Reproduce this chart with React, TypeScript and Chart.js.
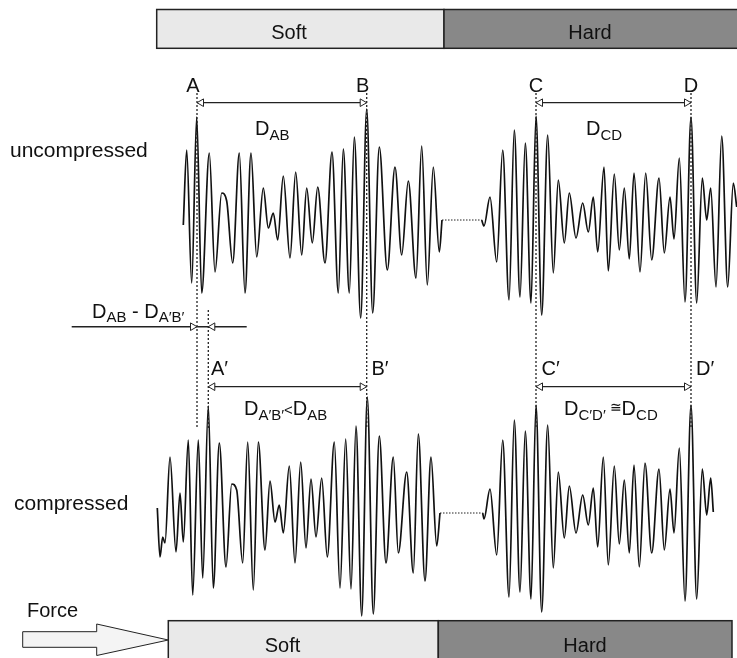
import React, { useEffect, useRef } from "react";
import { Chart, registerables } from "chart.js";

Chart.register(...registerables);

// ---- Waveform data (time units, amplitude; positive = up) ----
const upperLeftT = [183.3,186.7,191.7,196.7,201.7,209.3,215,221.7,226.7,232.7,239.3,245,251,256.7,263.3,268.3,273.3,277.7,283.3,290,295.7,301.7,306.7,312.3,317.7,325,332,338.3,343.3,349.3,354.3,360.7,366.7,372.7,379.3,387.3,395,401.7,408.3,416,421.7,427.3,433.3,439.3,442];
const upperLeftAmp = [-5,70,-63,103,-73,67,-52,27,19,-43,67,-73,67,-37,32,-8,7,-20,44,-38,48,-35,32,-23,33,-43,68,-73,71,-73,83,-98,111,-93,73,-50,53,-35,39,-58,74,-65,53,-32,0];

const upperRightT = [481.7,484,490,496.7,502.7,509,514.3,520,525.3,531,536,541.7,547.7,553.3,558.3,564.3,569.3,576,582.7,588.3,593.3,597.7,604,608.3,614.3,619.3,624.3,629.3,634,640,645.7,651.7,659,664.3,670,674,679.3,685,691,696.7,702.3,706.7,710.7,716,721.7,727.7,733.3,736.7];
const upperRightAmp = [0,-6,23,-42,70,-80,90,-77,77,-83,104,-95,85,-53,40,-23,27,-18,17,-12,23,-32,53,-51,46,-30,32,-39,47,-52,47,-40,42,-33,23,-19,62,-82,103,-83,42,0,32,-67,84,-67,37,13];

const lowerLeftT = [157.3,160,162.7,165,170,176,180,183.3,188.3,192.7,198.3,202.7,208.3,213.3,219.3,226,231.7,236.7,242.7,247.7,253.3,258.3,265,270,275,279.3,283.3,289.3,295,300.7,306,311,316,321.7,327.3,334.3,340,345.7,351,356,361.7,367.3,373.3,379.3,386,393.3,398.3,406.7,413.3,418.3,425,431,436.7,440];
const lowerLeftAmp = [5,-44,-24,-30,56,-39,20,-29,73,-82,73,-65,107,-75,70,-54,29,23,-50,71,-77,71,-37,32,-9,8,-20,47,-50,51,-35,34,-24,35,-44,71,-75,74,-76,87,-103,116,-101,77,-50,56,-40,41,-60,79,-68,56,-33,0];

const lowerRightT = [482.7,484,490,496.7,502.7,509,514.3,520,525.3,531,536,541.7,547.7,553.3,558.3,564.3,569.3,576,582.7,588.3,593.3,597.7,603.3,608.3,614.3,619.3,624.3,629.3,634,639.3,645,651.7,659,664.3,670,674,679.3,685,691,696.7,702.3,706.7,710.7,713.3];
const lowerRightAmp = [0,-6,24,-42,73,-84,93,-79,82,-86,108,-99,88,-55,41,-25,27,-20,18,-12,25,-34,56,-52,47,-31,33,-40,48,-54,50,-40,44,-37,24,-20,65,-88,108,-86,44,-2,35,1];

const upperGapT = [442, 481.7];
const lowerGapT = [440, 482.7];

// ---- Text labels ----
const barLabels = ["Soft", "Hard"];
const rowLabels = ["uncompressed", "compressed"];
const peakLabels = ["A", "B", "C", "D"];
const peakLabelsPrime = ["A′", "B′", "C′", "D′"];
const forceLabel = "Force";

const FONT = '"Liberation Sans", Arial, Helvetica, sans-serif';
const INK = "#111";

const zip = (t: number[], a: number[]) => t.map((x, i) => ({ x, y: a[i] }));

type Part = { t: string; s: number; dy?: number };

function rich(ctx: CanvasRenderingContext2D, x: number, y: number, parts: Part[]) {
  let cx = x;
  ctx.textAlign = "left";
  ctx.textBaseline = "alphabetic";
  for (const p of parts) {
    ctx.font = `${p.s}px ${FONT}`;
    ctx.fillText(p.t, cx, y + (p.dy || 0));
    cx += ctx.measureText(p.t).width;
  }
}

const overlay = {
  id: "overlay",
  afterDatasetsDraw(chart: any) {
    const ctx: CanvasRenderingContext2D = chart.ctx;
    const xs = chart.scales.x;
    const ys = chart.scales.yF;
    const X = (v: number) => xs.getPixelForValue(v);
    const Y = (v: number) => ys.getPixelForValue(v);
    ctx.save();

    // vertical dotted guide lines
    ctx.strokeStyle = "#222";
    ctx.lineWidth = 1.3;
    ctx.setLineDash([2, 2]);
    const vlines: [number, number, number][] = [
      [197, 93, 429],
      [208.3, 310, 429],
      [366.7, 93, 429],
      [536, 93, 429],
      [691, 93, 429],
    ];
    for (const [x, y0, y1] of vlines) {
      ctx.beginPath();
      ctx.moveTo(X(x), Y(y0));
      ctx.lineTo(X(x), Y(y1));
      ctx.stroke();
    }
    ctx.setLineDash([]);

    // distance arrows
    const tri = (tipX: number, y: number, dir: number) => {
      ctx.beginPath();
      ctx.moveTo(X(tipX), Y(y));
      ctx.lineTo(X(tipX + dir * 6.5), Y(y - 3.8));
      ctx.lineTo(X(tipX + dir * 6.5), Y(y + 3.8));
      ctx.closePath();
      ctx.fillStyle = "#fff";
      ctx.fill();
      ctx.lineWidth = 1;
      ctx.strokeStyle = "#222";
      ctx.stroke();
    };
    const hline = (x0: number, x1: number, y: number, w = 1.3) => {
      ctx.beginPath();
      ctx.moveTo(X(x0), Y(y));
      ctx.lineTo(X(x1), Y(y));
      ctx.lineWidth = w;
      ctx.strokeStyle = "#222";
      ctx.stroke();
    };
    const span = (x0: number, x1: number, y: number) => {
      hline(x0, x1, y);
      tri(x0, y, 1);
      tri(x1, y, -1);
    };
    span(197, 366.7, 102.7);
    span(536, 691, 102.7);
    span(208.3, 366.7, 386.7);
    span(536, 691, 386.7);

    // difference marker
    hline(71.7, 246.7, 326.7, 1.6);
    tri(197, 326.7, -1);
    tri(208.3, 326.7, 1);

    // labels
    ctx.fillStyle = INK;
    ctx.textBaseline = "alphabetic";
    ctx.textAlign = "center";
    ctx.font = `20px ${FONT}`;
    const pk = [193, 362.7, 536, 691];
    peakLabels.forEach((l, i) => ctx.fillText(l, X(pk[i]), Y(92)));
    ctx.textAlign = "left";
    const pkp = [211, 371.5, 541.5, 696];
    peakLabelsPrime.forEach((l, i) => ctx.fillText(l, X(pkp[i]), Y(375)));

    ctx.font = `21px ${FONT}`;
    ctx.fillText(rowLabels[0], X(10), Y(157));
    ctx.fillText(rowLabels[1], X(14), Y(510));

    rich(ctx, X(255), Y(135), [{ t: "D", s: 20 }, { t: "AB", s: 15, dy: 5 }]);
    rich(ctx, X(586), Y(135), [{ t: "D", s: 20 }, { t: "CD", s: 15, dy: 5 }]);
    rich(ctx, X(92), Y(318), [
      { t: "D", s: 20 },
      { t: "AB", s: 15, dy: 4 },
      { t: " - ", s: 20 },
      { t: "D", s: 20 },
      { t: "A′B′", s: 15, dy: 4 },
    ]);
    rich(ctx, X(244), Y(415), [
      { t: "D", s: 20 },
      { t: "A′B′", s: 15, dy: 5 },
      { t: "<", s: 15 },
      { t: "D", s: 20 },
      { t: "AB", s: 15, dy: 5 },
    ]);
    rich(ctx, X(564), Y(415), [
      { t: "D", s: 20 },
      { t: "C′D′", s: 15, dy: 5 },
      { t: " ≅", s: 14, dy: -3 },
      { t: "D", s: 20 },
      { t: "CD", s: 15, dy: 5 },
    ]);
    ctx.restore();
  },
  afterDraw(chart: any) {
    const ctx: CanvasRenderingContext2D = chart.ctx;
    const xs = chart.scales.x;
    const ys = chart.scales.yF;
    const X = (v: number) => xs.getPixelForValue(v);
    const Y = (v: number) => ys.getPixelForValue(v);
    ctx.save();
    const box = (x0: number, x1: number, y0: number, y1: number, fill: string) => {
      ctx.fillStyle = fill;
      ctx.fillRect(X(x0), Y(y0), X(x1) - X(x0), Y(y1) - Y(y0));
      ctx.lineWidth = 1.5;
      ctx.strokeStyle = "#222";
      ctx.strokeRect(X(x0), Y(y0), X(x1) - X(x0), Y(y1) - Y(y0));
    };
    // top bar
    box(156.7, 444, 9.5, 48.3, "#e9e9e9");
    box(444, 745, 9.5, 48.3, "#888888");
    // bottom bar
    box(168.3, 438.3, 620.7, 665, "#e9e9e9");
    box(438.3, 732, 620.7, 665, "#888888");

    ctx.fillStyle = INK;
    ctx.font = `20px ${FONT}`;
    ctx.textAlign = "center";
    ctx.textBaseline = "alphabetic";
    ctx.fillText(barLabels[0], X(289), Y(39));
    ctx.fillText(barLabels[1], X(590), Y(39));
    ctx.fillText(barLabels[0], X(282.5), Y(651.5));
    ctx.fillText(barLabels[1], X(585), Y(651.5));

    // force arrow
    ctx.beginPath();
    ctx.moveTo(X(22.7), Y(631.7));
    ctx.lineTo(X(96.7), Y(631.7));
    ctx.lineTo(X(96.7), Y(624));
    ctx.lineTo(X(168.3), Y(640));
    ctx.lineTo(X(96.7), Y(655.5));
    ctx.lineTo(X(96.7), Y(647.3));
    ctx.lineTo(X(22.7), Y(647.3));
    ctx.closePath();
    ctx.fillStyle = "#f4f4f4";
    ctx.fill();
    ctx.lineWidth = 1;
    ctx.strokeStyle = "#222";
    ctx.stroke();

    ctx.fillStyle = INK;
    ctx.textAlign = "left";
    ctx.font = `20px ${FONT}`;
    ctx.fillText(forceLabel, X(27), Y(617));
    ctx.restore();
  },
};

export default function App() {
  const ref = useRef<HTMLCanvasElement | null>(null);
  useEffect(() => {
    document.body.style.margin = "0";
    const canvas = ref.current!;
    const wave = (t: number[], a: number[], axis: string) => ({
      data: zip(t, a),
      yAxisID: axis,
      borderColor: INK,
      borderWidth: 1.7,
      pointRadius: 0,
      fill: false,
      cubicInterpolationMode: "monotone" as const,
      tension: 0.4,
    });
    const gap = (t: number[], axis: string) => ({
      data: t.map((x) => ({ x, y: 0 })),
      yAxisID: axis,
      borderColor: "#222",
      borderWidth: 1,
      borderDash: [1.5, 1.5],
      pointRadius: 0,
      fill: false,
    });
    const chart = new Chart(canvas, {
      type: "line",
      data: {
        datasets: [
          wave(upperLeftT, upperLeftAmp, "yU"),
          gap(upperGapT, "yU"),
          wave(upperRightT, upperRightAmp, "yU"),
          wave(lowerLeftT, lowerLeftAmp, "yL"),
          gap(lowerGapT, "yL"),
          wave(lowerRightT, lowerRightAmp, "yL"),
        ] as any,
      },
      options: {
        responsive: false,
        animation: false,
        events: [],
        layout: { padding: 0 },
        plugins: { legend: { display: false }, tooltip: { enabled: false } },
        scales: {
          x: { type: "linear", min: 0, max: 737, display: false },
          yU: { type: "linear", min: -438, max: 220, display: false },
          yL: { type: "linear", min: -145, max: 513, display: false },
          yF: { type: "linear", min: 0, max: 658, reverse: true, display: false },
        },
      },
      plugins: [overlay],
    });
    return () => chart.destroy();
  }, []);
  return (
    <div style={{ width: 737, height: 658, background: "#fff" }}>
      <canvas ref={ref} width={737} height={658} style={{ display: "block" }} />
    </div>
  );
}
